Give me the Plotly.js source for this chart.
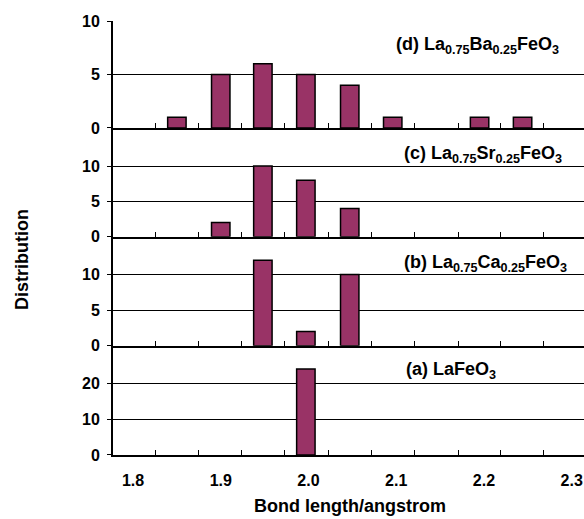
<!DOCTYPE html>
<html>
<head>
<meta charset="utf-8">
<script src="https://cdn.plot.ly/plotly-3.0.1.min.js"></script>
<style>html,body{margin:0;padding:0;background:#fff;}#chart{width:584px;height:519px;}</style>
</head>
<body>
<div id="chart"></div>
<script>
// Bin centres (angstrom)
const xA = [1.997];
const yA = [24];
const xB = [1.948, 1.997, 2.047];
const yB = [12, 2, 10];
const xC = [1.900, 1.948, 1.997, 2.047];
const yC = [2, 10, 8, 4];
const xD = [1.850, 1.900, 1.948, 1.997, 2.047, 2.096, 2.195, 2.244];
const yD = [1, 5, 6, 5, 4, 1, 1, 1];
const binEdges = [1.826, 1.875, 1.924, 1.973, 2.023, 2.072, 2.121, 2.171, 2.219, 2.268];
const xTickVals = [1.8, 1.9, 2.0, 2.1, 2.2, 2.3];
const xTickText = ['1.8', '1.9', '2.0', '2.1', '2.2', '2.3'];
const panelLabels = ['(a) LaFeO<sub>3</sub>',
  '(b) La<sub>0.75</sub>Ca<sub>0.25</sub>FeO<sub>3</sub>',
  '(c) La<sub>0.75</sub>Sr<sub>0.25</sub>FeO<sub>3</sub>',
  '(d) La<sub>0.75</sub>Ba<sub>0.25</sub>FeO<sub>3</sub>'];
const xTitle = 'Bond length/angstrom';
const yTitle = 'Distribution';

const FONT = 'Liberation Sans, Arial, sans-serif';
const barStyle = {color: '#993366', line: {color: '#000', width: 1.5}};
const W = 0.021;

const traces = [
  {x: xA, y: yA, xaxis: 'x', yaxis: 'y'},
  {x: xB, y: yB, xaxis: 'x2', yaxis: 'y2'},
  {x: xC, y: yC, xaxis: 'x3', yaxis: 'y3'},
  {x: xD, y: yD, xaxis: 'x4', yaxis: 'y4'}
].map(t => Object.assign(t, {type: 'bar', width: W, marker: barStyle, hoverinfo: 'x+y'}));

const xr = [1.7772, 2.314];
function xax(anchor, labels) {
  return {
    anchor: anchor, range: xr, showgrid: false, zeroline: false,
    showline: true, linecolor: '#000', linewidth: 2,
    tickmode: 'array', tickvals: xTickVals, ticktext: xTickText,
    ticks: '', showticklabels: labels,
    tickfont: {family: FONT, size: 16, color: '#000', weight: 'bold'},
    ticklabelstandoff: 10,
    minor: {tickmode: 'array', tickvals: binEdges, ticks: 'inside', ticklen: 5, tickwidth: 1, tickcolor: '#000', showgrid: false}
  };
}
function yax(anchor, domain, range, tv) {
  return {
    anchor: anchor, domain: domain, range: range,
    tickmode: 'array', tickvals: tv,
    showgrid: true, gridcolor: '#000', gridwidth: 1,
    zeroline: false, showline: true, linecolor: '#000', linewidth: 2,
    ticks: 'outside', ticklen: 4, tickcolor: '#000',
    ticklabelstandoff: 4,
    tickfont: {family: FONT, size: 16, color: '#000', weight: 'bold'}
  };
}

const labFont = {family: FONT, size: 18, color: '#000', weight: 'bold'};
const layout = {
  width: 584, height: 519,
  margin: {l: 113, r: 0, t: 21, b: 64},
  paper_bgcolor: '#fff', plot_bgcolor: '#fff',
  showlegend: false,
  xaxis: xax('y', true),
  xaxis2: xax('y2', false),
  xaxis3: xax('y3', false),
  xaxis4: xax('y4', false),
  yaxis: yax('x', [0, 0.2518], [0, 30.5], [0, 10, 20]),
  yaxis2: yax('x2', [0.2518, 0.503], [0, 15.3], [0, 5, 10]),
  yaxis3: yax('x3', [0.503, 0.7535], [0, 15.4], [0, 5, 10]),
  yaxis4: yax('x4', [0.7535, 1], [0, 10], [0, 5, 10]),
  annotations: [
    {text: panelLabels[0], xref: 'x', yref: 'y', x: 2.109, y: 23.6, xanchor: 'left', yanchor: 'middle', showarrow: false, font: labFont},
    {text: panelLabels[1], xref: 'x2', yref: 'y2', x: 2.106, y: 11.6, xanchor: 'left', yanchor: 'middle', showarrow: false, font: labFont},
    {text: panelLabels[2], xref: 'x3', yref: 'y3', x: 2.106, y: 11.6, xanchor: 'left', yanchor: 'middle', showarrow: false, font: labFont},
    {text: panelLabels[3], xref: 'x4', yref: 'y4', x: 2.098, y: 7.75, xanchor: 'left', yanchor: 'middle', showarrow: false, font: labFont},
    {text: xTitle, xref: 'paper', yref: 'paper', x: (350 - 113) / 471, y: -(506 - 455) / 434, xanchor: 'center', yanchor: 'middle', showarrow: false, font: {family: FONT, size: 18, color: '#000', weight: 'bold'}},
    {text: yTitle, xref: 'paper', yref: 'paper', x: (22 - 113) / 471, y: (455 - 260) / 434, xanchor: 'center', yanchor: 'middle', textangle: -90, showarrow: false, font: {family: FONT, size: 18, color: '#000', weight: 'bold'}}
  ]
};

Plotly.newPlot('chart', traces, layout, {displayModeBar: false, staticPlot: true});
</script>
</body>
</html>
